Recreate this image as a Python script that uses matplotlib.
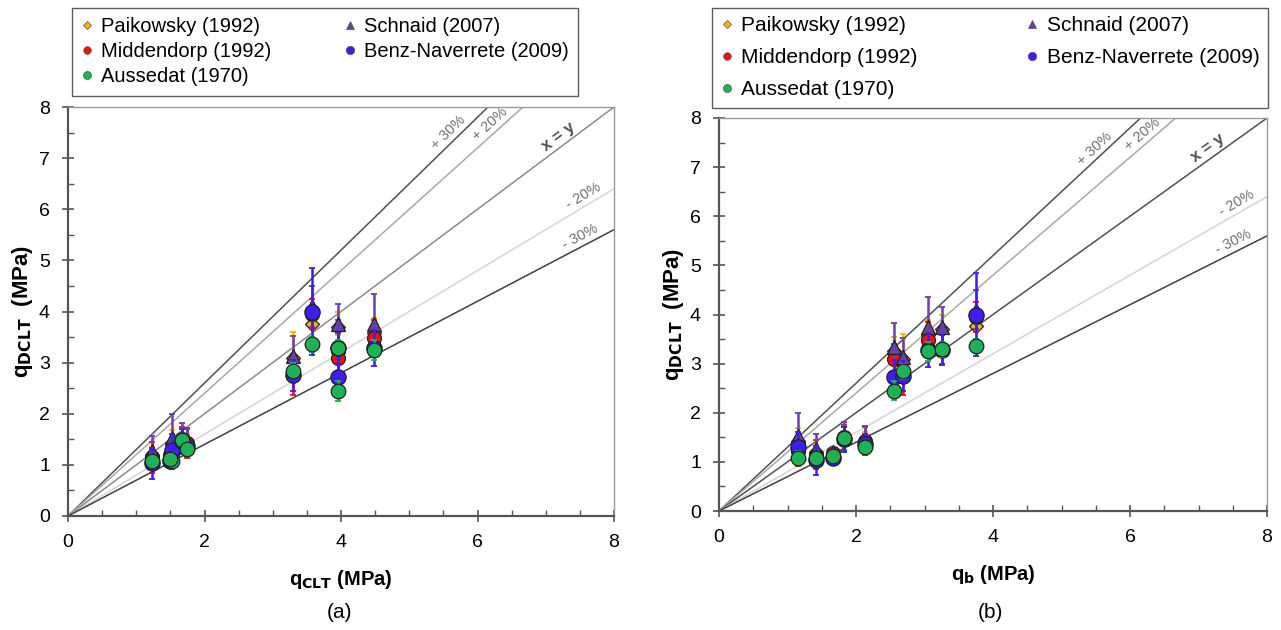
import numpy as np
import matplotlib
matplotlib.use("Agg")
import matplotlib.pyplot as plt
from matplotlib.ticker import MultipleLocator

plt.rcParams['font.family'] = ['Liberation Sans', 'DejaVu Sans']

# ---- data (10 tests) ----
q_clt = [1.52, 1.23, 1.50, 1.67, 1.75, 3.96, 3.29, 4.48, 3.96, 3.57]
q_b = [1.15, 1.42, 1.66, 1.82, 2.13, 2.55, 2.69, 3.05, 3.25, 3.75]

paik = [1.43, 1.20, 1.17, 1.50, 1.40, 3.25, 3.10, 3.58, 3.70, 3.76]
midd = [1.22, 1.15, 1.19, 1.50, 1.43, 3.09, 2.76, 3.49, 3.30, 3.95]
auss = [1.08, 1.07, 1.11, 1.49, 1.31, 2.45, 2.84, 3.25, 3.29, 3.36]
schn = [1.52, 1.27, 1.20, 1.52, 1.45, 3.33, 3.13, 3.75, 3.75, 4.10]
benz = [1.30, 1.03, 1.07, 1.46, 1.37, 2.72, 2.75, 3.28, 3.28, 4.00]

paik_err = [0.25, 0.15, 0.10, 0.20, 0.20, 0.30, 0.50, 0.30, 0.30, 0.30]
midd_err = [0.30, 0.30, 0.10, 0.25, 0.30, 0.30, 0.40, 0.35, 0.30, 0.30]
auss_err = [0.15, 0.10, 0.05, 0.10, 0.10, 0.20, 0.15, 0.20, 0.15, 0.15]
schn_err = [0.47, 0.30, 0.10, 0.30, 0.25, 0.50, 0.40, 0.60, 0.40, 0.40]
benz_err = [0.30, 0.30, 0.10, 0.25, 0.20, 0.35, 0.30, 0.35, 0.30, 0.85]

series = [
    ("Paikowsky (1992)", paik, paik_err, "D", "#F5B50A", 7.5, 1),
    ("Middendorp (1992)", midd, midd_err, "o", "#EE1111", 10, 2),
    ("Aussedat (1970)", auss, auss_err, "o", "#1DB254", 10.5, 5),
    ("Schnaid (2007)", schn, schn_err, "^", "#6A3FA6", 10, 3),
    ("Benz-Naverrete (2009)", benz, benz_err, "o", "#3B1FF2", 11, 4),
]

bands = [1.3, 1.2, 1.0, 0.8, 0.7]
band_labels = ["+ 30%", "+ 20%", "x = y", "- 20%", "- 30%"]

fig = plt.figure(figsize=(12.81, 6.30), dpi=100)
ax_a = fig.add_axes([68/1281, 1-516/630, 546/1281, 409/630])
ax_b = fig.add_axes([719/1281, 1-511/630, 548/1281, 393/630])


def draw(ax, xs, xlabel, label_x, xy_color):
    band_colors = ["#505050", "#a8a8a8", xy_color, "#d4d4d4", "#404040"]
    xx = np.array([0, 8.0])
    for s, c in zip(bands, band_colors):
        ax.plot(xx, s*xx, color=c, lw=1.1, zorder=0.5)
    for s, lab, lx in zip(bands, band_labels, label_x):
        ang = np.degrees(np.arctan(s))
        bold = lab == "x = y"
        ax.text(lx, s*lx + 0.06, lab, rotation=ang, transform_rotates_text=True,
                rotation_mode='anchor', ha='center', va='bottom',
                fontsize=12 if bold else 10.5, fontweight='bold' if bold else 'normal',
                color='#505050' if bold else '#707070', zorder=1)
    for name, ys, err, mk, col, ms, z in series:
        ax.errorbar(xs, ys, yerr=err, fmt='none', ecolor=col, elinewidth=1.8,
                    capsize=2, capthick=1.3, zorder=z)
        ax.plot(xs, ys, linestyle='none', marker=mk, markersize=ms,
                markerfacecolor=col, markeredgecolor='#222222', markeredgewidth=0.9,
                zorder=z + 0.5, label=name)
    ax.set_xlim(0, 8)
    ax.set_ylim(0, 8)
    ax.xaxis.set_major_locator(MultipleLocator(2))
    ax.xaxis.set_minor_locator(MultipleLocator(0.5))
    ax.yaxis.set_major_locator(MultipleLocator(1))
    ax.yaxis.set_minor_locator(MultipleLocator(0.5))
    ax.tick_params(which='major', direction='inout', length=8, width=1.2,
                   labelsize=14, color='#555555', pad=9)
    ax.tick_params(which='minor', direction='in', length=4, width=1, color='#555555')
    for side in ['left', 'bottom']:
        ax.spines[side].set_color('#555555')
        ax.spines[side].set_linewidth(1.6)
    for side in ['top', 'right']:
        ax.spines[side].set_color('#999999')
        ax.spines[side].set_linewidth(1.0)
    ax.set_xlabel(xlabel, fontsize=14.5, fontweight='bold', labelpad=12)
    ax.set_ylabel(r"q$_{\mathbf{DCLT}}$  (MPa)", fontsize=16, fontweight='bold', labelpad=3)


draw(ax_a, q_clt, r"q$_{\mathbf{CLT}}$ (MPa)", [5.65, 6.25, 7.25, 7.6, 7.55], '#8a8a8a')
draw(ax_b, q_b, r"q$_{\mathbf{b}}$ (MPa)", [5.55, 6.25, 7.2, 7.6, 7.55], '#505050')

fig.text(340/1281, 1-612/630, "(a)", fontsize=15, ha='center', va='center')
fig.text(990/1281, 1-612/630, "(b)", fontsize=15, ha='center', va='center')


def leg(ax, box, spacing, bpad, fs):
    h, l = ax.get_legend_handles_labels()
    small = []
    for hh in h:
        m = plt.Line2D([], [], linestyle='none', marker=hh.get_marker(),
                       markersize=hh.get_markersize()*0.55,
                       markerfacecolor=hh.get_markerfacecolor(),
                       markeredgecolor='#555555', markeredgewidth=0.5)
        small.append(m)
    lg = fig.legend(small, l, ncol=2, loc='upper left', bbox_to_anchor=box,
                    mode='expand', fontsize=fs, frameon=True, fancybox=False,
                    edgecolor='#333333', handlelength=0.6, handletextpad=0.4,
                    labelspacing=spacing, borderaxespad=0, borderpad=bpad)
    lg.get_frame().set_linewidth(1.0)


leg(ax_a, (72/1281, 1-8/630, 506/1281, 0.0), 0.3, 0.46, 14.5)
leg(ax_b, (712/1281, 1-8/630, 556/1281, 0.0), 0.62, 0.4, 15)

fig.savefig("out.png", dpi=100)
